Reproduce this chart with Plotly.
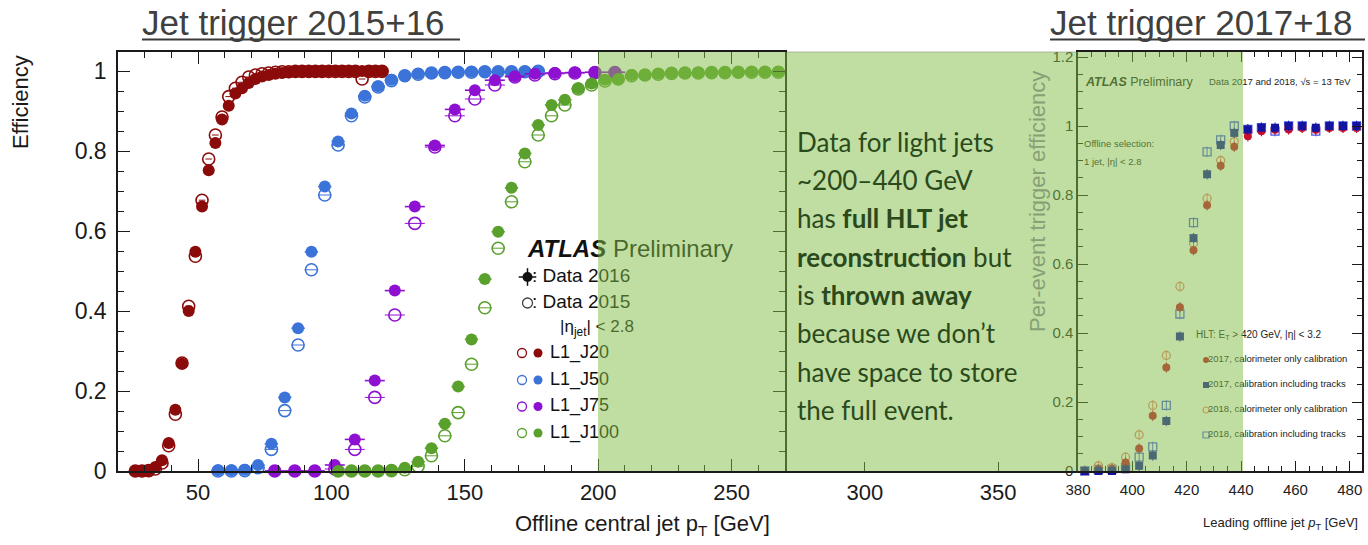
import plotly.graph_objects as go

# ---------------- data : left panel (Jet trigger 2015+16) ----------------
j20_pt = [26.5, 29.0, 31.5, 34.0, 36.5, 39.0, 41.5, 44.0, 46.5, 49.0,
          51.5, 54.0, 56.5, 59.0, 61.5, 64.0, 66.5, 69.0, 71.5, 74.0,
          76.5, 79.0, 81.5, 84.0, 86.5, 89.0, 91.5, 94.0, 96.5, 99.0,
          101.5, 104.0, 106.5, 109.0, 111.5, 114.0, 116.5, 119.0]
j20_2016 = [0.000, 0.000, 0.002, 0.010, 0.027, 0.070, 0.153, 0.268, 0.400, 0.548,
            0.661, 0.752, 0.820, 0.879, 0.913, 0.944, 0.957, 0.970, 0.980, 0.986,
            0.990, 0.993, 0.995, 0.997, 0.998, 0.998, 0.999, 0.999, 0.999, 1.000,
            1.000, 1.000, 1.000, 1.000, 1.000, 1.000, 1.000, 1.000]
j20_2015 = [0.000, 0.000, 0.001, 0.005, 0.020, 0.063, 0.142, 0.270, 0.412, 0.537,
            0.677, 0.780, 0.840, 0.885, 0.936, 0.957, 0.972, 0.985, 0.990, 0.993,
            0.995, 0.997, 0.998, 0.998, 0.999, 0.999, 0.999, 0.999, 0.999, 0.999,
            0.999, 0.999, 0.999, 0.999, 0.980, 0.999, 0.999, 0.999]

j50_pt = [57.5, 62.5, 67.5, 72.5, 77.5, 82.5, 87.5, 92.5, 97.5, 102.5,
          107.5, 112.5, 117.5, 122.5, 127.5, 132.5, 137.5, 142.5, 147.5, 152.5,
          157.5, 162.5, 167.5, 172.5, 177.5]
j50_2016 = [0.002, 0.002, 0.003, 0.015, 0.068, 0.184, 0.357, 0.548, 0.711, 0.824,
            0.894, 0.938, 0.962, 0.978, 0.988, 0.993, 0.995, 0.997, 0.997, 0.998,
            0.998, 0.998, 0.999, 0.999, 0.999]
j50_2015 = [0.000, 0.000, 0.001, 0.008, 0.054, 0.151, 0.315, 0.503, 0.690, 0.815,
            0.888, 0.935, 0.960, 0.976, 0.988, 0.992, 0.995, 0.996, 0.997, 0.997,
            0.998, 0.998, 0.998, 0.998, 0.999]

j75_pt = [78.75, 86.25, 93.75, 101.25, 108.75, 116.25, 123.75, 131.25, 138.75,
          146.25, 153.75, 161.25, 168.75, 176.25, 183.75, 191.25, 198.75, 206.25]
j75_2016 = [0.000, 0.000, 0.000, 0.015, 0.079, 0.226, 0.451, 0.661, 0.814,
            0.904, 0.952, 0.977, 0.987, 0.993, 0.995, 0.996, 0.997, 0.997]
j75_2015 = [0.000, 0.000, 0.000, 0.005, 0.054, 0.184, 0.390, 0.619, 0.810,
            0.888, 0.930, 0.965, 0.985, 0.990, 0.993, 0.995, 0.996, 0.996]

j100_pt = [102.5, 107.5, 112.5, 117.5, 122.5, 127.5, 132.5, 137.5, 142.5, 147.5,
           152.5, 157.5, 162.5, 167.5, 172.5, 177.5, 182.5, 187.5, 192.5, 197.5,
           202.5, 207.5, 212.5, 217.5, 222.5, 227.5, 232.5, 237.5, 242.5, 247.5,
           252.5, 257.5, 262.5, 267.5]
j100_2016 = [0.000, 0.000, 0.000, 0.000, 0.002, 0.008, 0.023, 0.057, 0.118, 0.211,
             0.329, 0.480, 0.598, 0.708, 0.794, 0.865, 0.915, 0.928, 0.957, 0.969,
             0.978, 0.980, 0.990, 0.990, 0.993, 0.995, 0.995, 0.996, 0.997, 0.997,
             0.997, 0.998, 0.998, 0.998]
j100_2015 = [0.000, 0.000, 0.000, 0.000, 0.001, 0.003, 0.012, 0.038, 0.088, 0.146,
             0.267, 0.408, 0.557, 0.673, 0.773, 0.840, 0.888, 0.915, 0.955, 0.965,
             0.975, 0.980, 0.988, 0.990, 0.992, 0.994, 0.995, 0.995, 0.996, 0.996,
             0.997, 0.997, 0.997, 0.997]

left_series = ["L1_J20", "L1_J50", "L1_J75", "L1_J100"]
left_halfbin = [1.25, 2.5, 3.75, 2.5]

# ---------------- data : right panel (Jet trigger 2017+18) ----------------
r_pt = [382.5, 387.5, 392.5, 397.5, 402.5, 407.5, 412.5, 417.5, 422.5, 427.5,
        432.5, 437.5, 442.5, 447.5, 452.5, 457.5, 462.5, 467.5, 472.5, 477.5, 482.5]
r17_calo = [0.000, 0.005, 0.005, 0.025, 0.065, 0.160, 0.300, 0.475, 0.640, 0.770,
            0.885, 0.940, 0.970, 0.985, 0.990, 0.990, 0.995, 0.990, 0.995, 0.995, 0.995]
r17_trk = [0.000, 0.000, 0.000, 0.005, 0.015, 0.045, 0.145, 0.390, 0.675, 0.860,
           0.945, 0.980, 0.990, 0.995, 0.995, 1.000, 1.000, 0.995, 1.000, 1.000, 1.000]
r18_calo = [0.000, 0.015, 0.010, 0.040, 0.105, 0.190, 0.335, 0.535, 0.660, 0.790,
            0.900, 0.955, 0.985, 0.990, 0.990, 0.995, 0.995, 0.990, 0.995, 0.995, 0.995]
r18_trk = [0.000, 0.005, 0.005, 0.010, 0.040, 0.070, 0.190, 0.455, 0.720, 0.925,
           0.960, 1.000, 0.990, 0.995, 0.985, 1.000, 1.000, 0.985, 1.000, 1.000, 1.000]
right_labels = ["2017, calorimeter only calibration",
                "2017, calibration including tracks",
                "2018, calorimeter only calibration",
                "2018, calibration including tracks"]

left_ticks_x = [50, 100, 150, 200, 250]
mid_ticks_x = [300, 350]
right_ticks_x = [380, 400, 420, 440, 460, 480]
left_ticks_y = [0, 0.2, 0.4, 0.6, 0.8, 1.0]
left_ticktext_y = ["0", "0.2", "0.4", "0.6", "0.8", "1"]
right_ticks_y = [0, 0.2, 0.4, 0.6, 0.8, 1.0, 1.2]
right_ticktext_y = ["0", "0.2", "0.4", "0.6", "0.8", "1", "1.2"]

box_lines = ["Data for light jets",
             "~200\u2013440 GeV",
             "has <b>full HLT jet</b>",
             "<b>reconstruction</b> but",
             "is <b>thrown away</b>",
             "because we don\u2019t",
             "have space to store",
             "the full event."]

# ---------------- styling / geometry ----------------
W, H = 1368, 545
SANS = "Liberation Sans, Arial, Helvetica, sans-serif"
BOXFONT = "Lato, Noto Sans, sans-serif"
C20, C50, C75, C100 = "#8b0a0a", "#3b73d9", "#8e10d0", "#5aa02c"
left_colors = [C20, C50, C75, C100]
C17CALO, C17TRK, C18CALO, C18TRK = "#c8102e", "#1414a0", "#f07a6a", "#4a5ae8"

Y_BOT, Y_TOP = 471, 52
LX0, LX1, LXMIN, LXMAX = 118, 785, 20.0, 270.0
MX1 = 1078
RX0, RX1, RXMIN, RXMAX = 1078, 1362, 380.0, 484.5
L_PX_PER_UNIT, R_PX_PER_UNIT = 400.0, 345.0
L_YMAX = (Y_BOT - Y_TOP) / L_PX_PER_UNIT
R_YMAX = (Y_BOT - Y_TOP) / R_PX_PER_UNIT


def fx(p):
    return p / W


def fy(p):
    return 1 - p / H


def lx(p):
    return LXMIN + (p - LX0) * (LXMAX - LXMIN) / (LX1 - LX0)


def ly(p):
    return (Y_BOT - p) / L_PX_PER_UNIT


def rx(p):
    return RXMIN + (p - RX0) * (RXMAX - RXMIN) / (RX1 - RX0)


def ry(p):
    return (Y_BOT - p) / R_PX_PER_UNIT


fig = go.Figure()

left_data = [(j20_pt, j20_2015, j20_2016), (j50_pt, j50_2015, j50_2016),
             (j75_pt, j75_2015, j75_2016), (j100_pt, j100_2015, j100_2016)]
for (pt, d15, d16), col, hb, name in zip(left_data, left_colors, left_halfbin, left_series):
    fig.add_trace(go.Scatter(
        x=pt, y=d15, mode="markers", name=name + " 2015", showlegend=False,
        marker=dict(symbol="circle-open", size=12, color=col, line=dict(width=1.6, color=col)),
        error_x=dict(type="constant", value=hb, thickness=1, width=0, color=col),
        xaxis="x", yaxis="y", hoverinfo="skip", cliponaxis=False))
for (pt, d15, d16), col, hb, name in zip(left_data, left_colors, left_halfbin, left_series):
    fig.add_trace(go.Scatter(
        x=pt, y=d16, mode="markers", name=name + " 2016", showlegend=False,
        marker=dict(symbol="circle", size=12, color=col, line=dict(width=0)),
        error_x=dict(type="constant", value=hb, thickness=1.6, width=0, color=col),
        xaxis="x", yaxis="y", hoverinfo="skip", cliponaxis=False))


def ltext(p_x, p_y, txt, size, color="#111", family=SANS):
    fig.add_trace(go.Scatter(x=[lx(p_x)], y=[ly(p_y)], mode="text", text=[txt],
                             textposition="middle right",
                             textfont=dict(family=family, size=size, color=color),
                             xaxis="x", yaxis="y", showlegend=False, hoverinfo="skip",
                             cliponaxis=False))


ltext(528, 251, "<b><i>ATLAS</i></b> Preliminary", 24)
fig.add_trace(go.Scatter(x=[lx(527.5)], y=[ly(277)], mode="markers",
                         marker=dict(symbol="circle", size=10, color="#111"),
                         error_x=dict(type="constant", value=3.3, thickness=1.5, width=0, color="#111"),
                         error_y=dict(type="constant", value=0.022, thickness=1.5, width=0, color="#111"),
                         xaxis="x", yaxis="y", showlegend=False, hoverinfo="skip"))
ltext(532, 277, ": Data 2016", 19)
fig.add_trace(go.Scatter(x=[lx(527.5)], y=[ly(303)], mode="markers",
                         marker=dict(symbol="circle-open", size=10, color="#444",
                                     line=dict(width=1.3, color="#444")),
                         xaxis="x", yaxis="y", showlegend=False, hoverinfo="skip"))
ltext(532, 303, ": Data 2015", 19)
ltext(560, 328, "|\u03b7<sub>jet</sub>| < 2.8", 17)
row_y = [353, 380, 406.5, 433]
for name, col, yy in zip(left_series, left_colors, row_y):
    fig.add_trace(go.Scatter(x=[lx(522)], y=[ly(yy)], mode="markers",
                             marker=dict(symbol="circle-open", size=9, color=col,
                                         line=dict(width=1.3, color=col)),
                             xaxis="x", yaxis="y", showlegend=False, hoverinfo="skip"))
    fig.add_trace(go.Scatter(x=[lx(538)], y=[ly(yy)], mode="markers",
                             marker=dict(symbol="circle", size=9, color=col),
                             xaxis="x", yaxis="y", showlegend=False, hoverinfo="skip"))
    ltext(550, yy, name, 18)

# middle section: empty axis that continues the pT scale
fig.add_trace(go.Scatter(x=[300], y=[None], mode="markers", xaxis="x2", yaxis="y2",
                         showlegend=False, hoverinfo="skip"))

r_series = [(r18_trk, "square-open", C18TRK, right_labels[3]),
            (r18_calo, "circle-open", C18CALO, right_labels[2]),
            (r17_calo, "circle", C17CALO, right_labels[0]),
            (r17_trk, "square", C17TRK, right_labels[1])]
for vals, sym, col, name in r_series:
    open_ = sym.endswith("open")
    fig.add_trace(go.Scatter(
        x=r_pt, y=vals, mode="markers", name=name, showlegend=False,
        marker=dict(symbol=sym, size=8, color=col,
                    line=dict(width=1.3 if open_ else 0, color=col)),
        error_y=dict(type="constant", value=0.015, thickness=1, width=0, color=col),
        xaxis="x3", yaxis="y3", hoverinfo="skip", cliponaxis=False))


def rtext(p_x, p_y, txt, size, color="#222", family=SANS):
    fig.add_trace(go.Scatter(x=[rx(p_x)], y=[ry(p_y)], mode="text", text=[txt],
                             textposition="middle right",
                             textfont=dict(family=family, size=size, color=color),
                             xaxis="x3", yaxis="y3", showlegend=False, hoverinfo="skip",
                             cliponaxis=False))


rtext(1086, 83, "<b><i>ATLAS</i></b> Preliminary", 12.5)
rtext(1209, 83, "Data 2017 and 2018, \u221as = 13 TeV", 9.5)
rtext(1084, 145, "Offline selection:", 9.5)
rtext(1084, 163, "1 jet, |\u03b7| < 2.8", 9.5)
rtext(1196, 335, "HLT: E<sub>T</sub> > 420 GeV, |\u03b7| < 3.2", 10)
leg_syms = [("circle", C17CALO), ("square", C17TRK), ("circle-open", C18CALO), ("square-open", C18TRK)]
for (sym, col), lab, yy in zip(leg_syms, right_labels, [360, 385, 410, 435]):
    fig.add_trace(go.Scatter(x=[rx(1206)], y=[ry(yy)], mode="markers",
                             marker=dict(symbol=sym, size=6, color=col,
                                         line=dict(width=1.2 if sym.endswith("open") else 0, color=col)),
                             xaxis="x3", yaxis="y3", showlegend=False, hoverinfo="skip",
                             cliponaxis=False))
    rtext(1208, yy, lab, 9.5)

ydom = [fy(Y_BOT), fy(Y_TOP)]
axis_common = dict(showgrid=False, zeroline=False, showline=True, linecolor="#1a1a1a",
                   linewidth=1.5, ticks="inside", tickcolor="#1a1a1a", tickwidth=1.2,
                   automargin=False)

fig.update_layout(
    width=W, height=H, margin=dict(l=0, r=0, t=0, b=0, pad=0, autoexpand=False), autosize=False,
    paper_bgcolor="white", plot_bgcolor="white", showlegend=False, hovermode=False,
    xaxis=dict(domain=[fx(LX0), fx(LX1)], range=[LXMIN, LXMAX], anchor="y",
               tickvals=left_ticks_x, ticklen=12, mirror="allticks", ticklabelstandoff=1,
               minor=dict(ticks="inside", dtick=10, tick0=0, ticklen=6, tickcolor="#1a1a1a"),
               tickfont=dict(family=SANS, size=22, color="#1a1a1a"), **axis_common),
    yaxis=dict(domain=ydom, range=[0, L_YMAX], anchor="x",
               tickvals=left_ticks_y, ticktext=left_ticktext_y, ticklen=12, mirror="allticks",
               ticklabelstandoff=5,
               minor=dict(ticks="inside", dtick=0.05, tick0=0, ticklen=6, tickcolor="#1a1a1a"),
               tickfont=dict(family=SANS, size=23, color="#1a1a1a"), **axis_common),
    xaxis2=dict(domain=[fx(LX1), fx(MX1)], range=[LXMAX, RXMIN], anchor="y2",
                tickvals=mid_ticks_x, ticklen=9, mirror=False, ticklabelstandoff=1,
                tickfont=dict(family=SANS, size=22, color="#1a1a1a"), **axis_common),
    yaxis2=dict(domain=ydom, range=[0, 1], anchor="x2", visible=False, automargin=False),
    xaxis3=dict(domain=[fx(RX0), fx(RX1)], range=[RXMIN, RXMAX], anchor="y3",
                tickvals=right_ticks_x, ticklen=10, mirror="allticks", ticklabelstandoff=4,
                minor=dict(ticks="inside", dtick=5, tick0=380, ticklen=5, tickcolor="#1a1a1a"),
                tickfont=dict(family=SANS, size=15, color="#222"), **axis_common),
    yaxis3=dict(domain=ydom, range=[0, R_YMAX], anchor="x3",
                tickvals=right_ticks_y, ticktext=right_ticktext_y, ticklen=10, mirror="allticks",
                minor=dict(ticks="inside", dtick=0.05, tick0=0, ticklen=5, tickcolor="#1a1a1a"),
                tickfont=dict(family=SANS, size=15, color="#222"), **axis_common),
)

shapes = [
    dict(type="line", xref="paper", yref="paper", x0=fx(LX1), x1=fx(MX1),
         y0=fy(Y_TOP), y1=fy(Y_TOP), line=dict(color="#b5b5b5", width=1), layer="below"),
    dict(type="rect", xref="paper", yref="paper", x0=fx(598), x1=fx(1243),
         y0=fy(Y_BOT), y1=fy(Y_TOP), fillcolor="rgba(130,190,70,0.5)",
         line=dict(width=0), layer="above"),
    dict(type="line", xref="paper", yref="paper", x0=fx(142), x1=fx(460),
         y0=fy(39.5), y1=fy(39.5), line=dict(color="#3a3a3a", width=2)),
    dict(type="line", xref="paper", yref="paper", x0=fx(1050), x1=fx(1365),
         y0=fy(39.5), y1=fy(39.5), line=dict(color="#3a3a3a", width=2)),
]
fig.update_layout(shapes=shapes)

ann = [
    dict(text="Jet trigger 2015+16", x=fx(140), y=fy(22), xanchor="left", yanchor="middle",
         font=dict(family=SANS, size=35, color="#404040")),
    dict(text="Jet trigger 2017+18", x=fx(1048), y=fy(22), xanchor="left", yanchor="middle",
         font=dict(family=SANS, size=35, color="#404040")),
    dict(text="Efficiency", x=fx(20), y=fy(102), xanchor="center", yanchor="middle",
         textangle=-90, font=dict(family=SANS, size=22, color="#1a1a1a")),
    dict(text="Offline central jet p<sub>T</sub> [GeV]", x=fx(772), y=fy(525),
         xanchor="right", yanchor="middle", font=dict(family=SANS, size=22, color="#1a1a1a")),
    dict(text="Per-event trigger efficiency", x=fx(1037), y=fy(202), xanchor="center",
         yanchor="middle", textangle=-90, font=dict(family=SANS, size=22, color="#86a176")),
    dict(text="Leading offline jet <i>p</i><sub>T</sub> [GeV]", x=fx(1360), y=fy(523),
         xanchor="right", yanchor="middle", font=dict(family=SANS, size=13, color="#222")),
]
for i, line in enumerate(box_lines):
    ann.append(dict(text=line, x=fx(795), y=fy(141.7 + i * 38.3), xanchor="left",
                    yanchor="middle", font=dict(family=BOXFONT, size=26, color="#2b4a1c")))
for a in ann:
    a.update(xref="paper", yref="paper", showarrow=False)
fig.update_layout(annotations=ann)

fig.write_html("out.html")
